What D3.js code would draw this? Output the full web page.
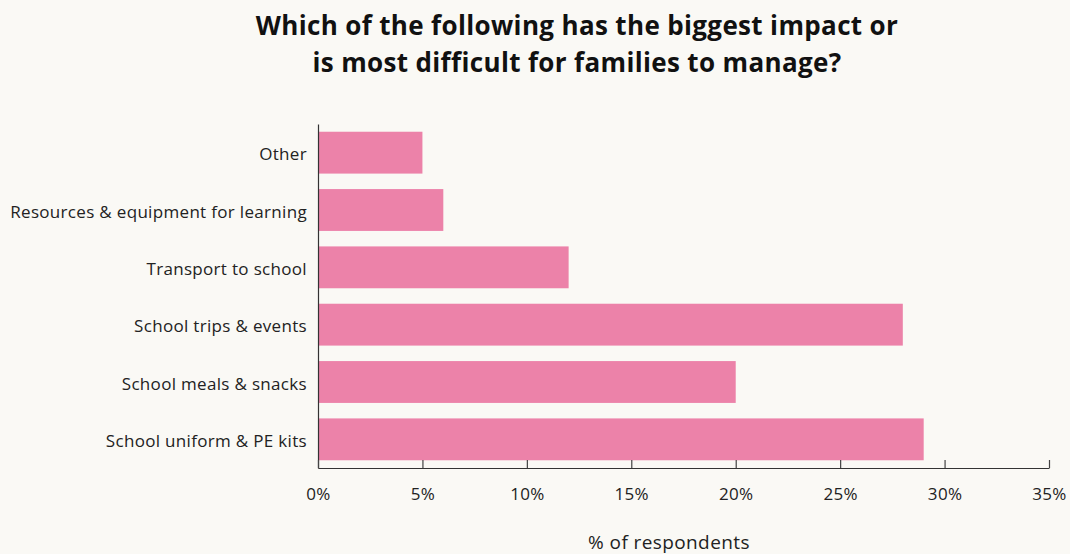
<!DOCTYPE html>
<html>
<head>
<meta charset="utf-8">
<script src="https://cdn.jsdelivr.net/npm/d3@7"></script>
<style>
  html, body { margin: 0; padding: 0; background: #faf9f5; }
  svg { display: block; }
  text { font-family: "Open Sans", sans-serif; }
</style>
</head>
<body>
<svg id="chart" width="1070" height="554"></svg>
<script>
// Survey answers, top to bottom
const categories = [
  "Other",
  "Resources & equipment for learning",
  "Transport to school",
  "School trips & events",
  "School meals & snacks",
  "School uniform & PE kits"
];
const values = [5, 6, 12, 28, 20, 29];
const xTicks = [0, 5, 10, 15, 20, 25, 30, 35];
const titleLines = [
  "Which of the following has the biggest impact or",
  "is most difficult for families to manage?"
];
const xLabel = "% of respondents";

const data = categories.map((c, i) => ({ category: c, value: values[i] }));
const FONT = "'Open Sans', sans-serif";

const svg = d3.select("#chart");
const margin = { left: 318, right: 21, top: 124, bottom: 86 };
const W = 1070, H = 554;

const x = d3.scaleLinear().domain([0, 35]).range([margin.left, W - margin.right]);
const y = d3.scaleBand().domain(categories)
  .range([margin.top, H - margin.bottom])
  .paddingInner(0.27).paddingOuter(0.135);

// Title
svg.append("g").selectAll("text").data(titleLines).join("text")
  .attr("x", 577).attr("y", (d, i) => 35 + i * 37)
  .attr("text-anchor", "middle")
  .attr("font-size", 26).attr("font-weight", 700).attr("fill", "#111")
  .attr("letter-spacing", 0.35)
  .text(d => d);

// Bars
svg.append("g").selectAll("rect").data(data).join("rect")
  .attr("x", x(0))
  .attr("y", d => y(d.category))
  .attr("width", d => x(d.value) - x(0))
  .attr("height", y.bandwidth())
  .attr("fill", "#ec82a9");

// Category axis (labels only, plus the spine)
const yAxis = svg.append("g")
  .attr("transform", `translate(${margin.left},0)`)
  .call(d3.axisLeft(y).tickSize(0).tickPadding(11));
yAxis.select(".domain").attr("stroke", "#333").attr("stroke-width", 1.2);
yAxis.selectAll("text").attr("font-size", 17).attr("fill", "#222")
  .attr("letter-spacing", 0.32)
  .attr("dy", "0.45em").style("font-family", FONT);

// Value axis with inward ticks
const xAxis = svg.append("g")
  .attr("transform", `translate(0,${H - margin.bottom})`)
  .call(d3.axisBottom(x).tickValues(xTicks).tickFormat(d => d + "%")
    .tickSizeInner(-8).tickSizeOuter(0).tickPadding(20));
xAxis.select(".domain").attr("stroke", "#333").attr("stroke-width", 1.2);
xAxis.selectAll(".tick line").attr("stroke", "#444").attr("stroke-width", 1.2);
xAxis.selectAll("text").attr("font-size", 17).attr("fill", "#222")
  .attr("letter-spacing", 0.3)
  .style("font-family", FONT);

// Axis title
svg.append("text")
  .attr("x", 669).attr("y", 549)
  .attr("text-anchor", "middle")
  .attr("font-size", 19).attr("fill", "#222")
  .attr("letter-spacing", 0.4)
  .text(xLabel);
</script>
</body>
</html>
